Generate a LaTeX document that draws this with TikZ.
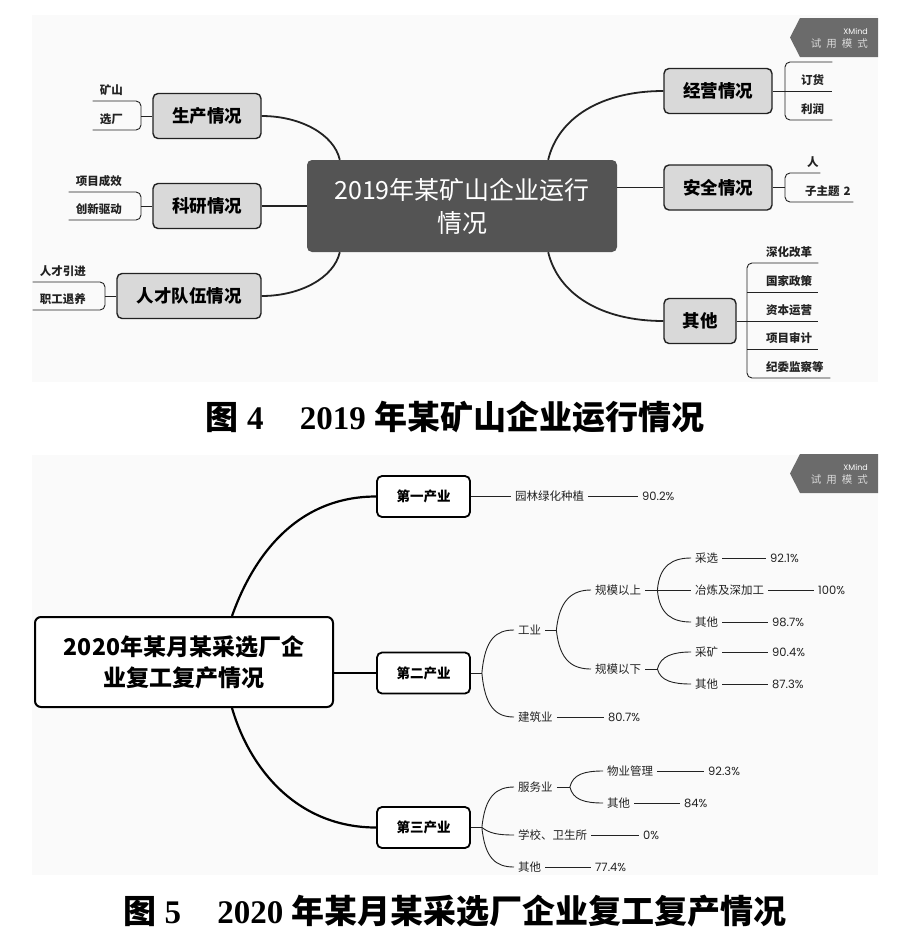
\documentclass[tikz,border=0pt]{standalone}
\usepackage{fontspec}
\setmainfont{Liberation Serif}
\newfontfamily\cjk{Noto Sans CJK SC}
\newfontfamily\pop{Poppins}
\usetikzlibrary{positioning}
\definecolor{panelbg}{HTML}{FAFAFA}
\definecolor{rootgray}{HTML}{545454}
\definecolor{topicgray}{HTML}{D9D9D9}
\definecolor{markgray}{HTML}{6B6B6B}
\definecolor{inkgray}{HTML}{222222}

\begin{document}
\begin{tikzpicture}[x=1pt,y=-1pt,
  rootdark/.style={fill=rootgray,text=white,rounded corners=5pt,minimum width=310pt,minimum height=92pt,align=center,inner sep=0pt,font=\cjk\fontsize{25}{33}\selectfont},
  topic/.style={draw=inkgray,line width=1.4pt,rounded corners=5pt,fill=topicgray,minimum height=45pt,inner sep=0pt,font=\cjk\bfseries\fontsize{17.5}{20}\selectfont},
  leafL/.style={font=\cjk\bfseries\fontsize{11.5}{14}\selectfont,text=inkgray,inner xsep=7pt,inner ysep=0pt,minimum height=22pt,align=left,text width=#1,anchor=south east},
  leafR/.style={font=\cjk\bfseries\fontsize{11.5}{14}\selectfont,text=inkgray,inner xsep=0pt,inner ysep=0pt,minimum height=22pt,align=left,text width=#1,anchor=south west},
  rootwhite/.style={draw=black,line width=2pt,rounded corners=6pt,fill=white,minimum width=298pt,minimum height=90pt,align=center,inner sep=0pt,font=\cjk\bfseries\fontsize{23}{31}\selectfont},
  branch/.style={draw=black,line width=1.8pt,rounded corners=5pt,fill=white,minimum width=93pt,minimum height=41pt,inner sep=0pt,font=\cjk\bfseries\fontsize{13.5}{16}\selectfont},
  item/.style={font=\cjk\fontsize{11.5}{14}\selectfont,text=inkgray,inner xsep=4pt,inner ysep=2pt,anchor=west},
  val/.style={font=\pop\fontsize{11.5}{14}\selectfont,text=inkgray,inner xsep=4pt,inner ysep=2pt,anchor=west},
  limb/.style={draw=inkgray,line width=1.8pt},
  bough/.style={draw=black,line width=2.2pt},
  twig/.style={draw=inkgray,line width=0.9pt},
  caption/.style={font=\bfseries\fontsize{33}{36}\selectfont,inner sep=0pt}
]
\fill[white] (0,0) rectangle (918,943);
\useasboundingbox (0,0) rectangle (918,943);
\fill[panelbg] (32,15) rectangle (878,382);
\fill[panelbg] (32,455) rectangle (878,875);

% trial-mode badges
\fill[markgray] (878,18) -- (800,18) -- (790,37.5) -- (800,57) -- (878,57) -- cycle;
\node[font=\pop\fontsize{8}{9}\selectfont,text=white,anchor=east,inner sep=0pt] (xm1) at (868,31) {XMind};
\node[font=\cjk\fontsize{10.5}{12}\selectfont,text=white!85!black,anchor=east,inner sep=0pt] (ty1) at (868,44) {试\hspace{5pt}用\hspace{5pt}模\hspace{5pt}式};
\fill[markgray] (878,454) -- (800,454) -- (790,473.5) -- (800,493) -- (878,493) -- cycle;
\node[font=\pop\fontsize{8}{9}\selectfont,text=white,anchor=east,inner sep=0pt] (xm2) at (868,467) {XMind};
\node[font=\cjk\fontsize{10.5}{12}\selectfont,text=white!85!black,anchor=east,inner sep=0pt] (ty2) at (868,480) {试\hspace{5pt}用\hspace{5pt}模\hspace{5pt}式};

% figure 4
\node[rootdark] (r1) at (462,206) {2019年某矿山企业运行\\情况};
\node[topic,minimum width=108pt] (p1) at (207,116) {生产情况};
\node[topic,minimum width=108pt] (p2) at (207,206) {科研情况};
\node[topic,minimum width=144pt] (p3) at (189,296) {人才队伍情况};
\node[topic,minimum width=108pt] (p4) at (718,91) {经营情况};
\node[topic,minimum width=108pt] (p5) at (718,187.5) {安全情况};
\node[topic,minimum width=72pt] (p6) at (700,321) {其他};
\draw[limb] ([xshift=33pt]r1.north west) .. controls +(-6,-26) and +(38,0) .. (p1.east);
\draw[limb] (r1.west) -- (p2.east);
\draw[limb] ([xshift=33pt]r1.south west) .. controls +(-6,26) and +(38,0) .. (p3.east);
\draw[limb] ([xshift=-69pt]r1.north east) .. controls +(10,-42) and +(-62,0) .. (p4.west);
\draw[limb] (r1.east |- p5.west) -- (p5.west);
\draw[limb] ([xshift=-69pt]r1.south east) .. controls +(10,42) and +(-62,0) .. (p6.west);

\node[leafL=34pt] (a1) at (141,101) {矿山};
\node[leafL=34pt] (a2) at (141,130) {选厂};
\draw[twig,rounded corners=5pt] (a1.south west) -- (a1.south east) -- (a2.south east) -- (a2.south west);
\draw[twig] (p1.west) -- (p1.west -| a1.south east);
\node[leafL=58pt] (e1) at (141,192) {项目成效};
\node[leafL=58pt] (e2) at (141,220) {创新驱动};
\draw[twig,rounded corners=5pt] (e1.south west) -- (e1.south east) -- (e2.south east) -- (e2.south west);
\draw[twig] (p2.west) -- (p2.west -| e1.south east);
\node[leafL=58pt] (f1) at (105,282) {人才引进};
\node[leafL=58pt] (f2) at (105,310) {职工退养};
\draw[twig,rounded corners=5pt] (f1.south west) -- (f1.south east) -- (f2.south east) -- (f2.south west);
\draw[twig] (p3.west) -- (p3.west -| f1.south east);

\coordinate (k4t) at (785,62);
\coordinate (k4b) at (785,120);
\node[leafR=31pt] (b1) at (801,91) {订货};
\node[leafR=31pt] (b2) at (801,120) {利润};
\draw[twig,rounded corners=5pt] (b1.south east |- k4t) -- (k4t) -- (k4b) -- (b2.south east);
\draw[twig] (p4.east) -- (b1.south east);
\coordinate (k5t) at (785,173);
\coordinate (k5b) at (785,202);
\node[leafR=13pt] (c1) at (807,173) {人};
\node[leafR=48pt] (c2) at (805,202) {子主题 2};
\draw[twig,rounded corners=5pt] (c1.south east) -- (k5t) -- (k5b) -- (c2.south east);
\draw[twig] (p5.east) -- (p5.east -| k5t);
\coordinate (k6t) at (747,263);
\coordinate (k6b) at (747,378);
\node[leafR=52pt] (d1) at (766,263) {深化改革};
\node[leafR=52pt] (d2) at (766,292) {国家政策};
\node[leafR=52pt] (d3) at (766,321) {资本运营};
\node[leafR=52pt] (d4) at (766,349) {项目审计};
\node[leafR=64pt] (d5) at (766,378) {纪委监察等};
\draw[twig,rounded corners=5pt] (d1.south east) -- (k6t) -- (k6b) -- (d5.south east);
\draw[twig] (k6t |- d2.south) -- (d2.south east);
\draw[twig] (k6t |- d3.south) -- (d3.south east);
\draw[twig] (k6t |- d4.south) -- (d4.south east);
\draw[twig] (p6.east) -- (p6.east -| k6t);

\node[caption] (cap4) at (455,417) {{\cjk 图} 4\hspace{1.1em}2019 {\cjk 年某矿山企业运行情况}};

% figure 5
\node[rootwhite] (r2) at (184,662) {2020年某月某采选厂企\\业复工复产情况};
\node[branch] (g1) at (423.5,496.5) {第一产业};
\node[branch] (g2) at (423.5,673) {第二产业};
\node[branch] (g3) at (423.5,827.5) {第三产业};
\draw[bough] ([xshift=48pt]r2.north) .. controls +(22,-62) and +(-78,0) .. (g1.west);
\draw[bough] (r2.east |- g2.west) -- (g2.west);
\draw[bough] ([xshift=48pt]r2.south) .. controls +(18,62) and +(-78,0) .. (g3.west);

\node[item] (h1) at (511,496.5) {园林绿化种植};
\node[val] (h1v) at (638,496.5) {90.2\%};
\draw[twig] (g1.east) -- (h1.west);
\draw[twig] (h1.east) -- (h1v.west);

\node[item] (i1) at (514,630) {工业};
\node[item] (i2) at (514,717) {建筑业};
\node[val] (i2v) at (604,717) {80.7\%};
\coordinate (fk2) at ([xshift=11pt]g2.east);
\draw[twig] (g2.east) -- (fk2);
\draw[twig] (fk2) .. controls +(3,-34) and +(-18,0) .. (i1.west);
\draw[twig] (fk2) .. controls +(3,34) and +(-18,0) .. (i2.west);
\draw[twig] (i2.east) -- (i2v.west);

\node[item] (j1) at (591,590) {规模以上};
\node[item] (j2) at (591,669) {规模以下};
\coordinate (fk3) at ([xshift=11pt]i1.east);
\draw[twig] (i1.east) -- (fk3);
\draw[twig] (fk3) .. controls +(3,-31) and +(-18,0) .. (j1.west);
\draw[twig] (fk3) .. controls +(3,31) and +(-18,0) .. (j2.west);

\node[item] (k1) at (691,558) {采选};
\node[item] (k2) at (691,590) {冶炼及深加工};
\node[item] (k3) at (691,622) {其他};
\node[val] (k1v) at (766,558) {92.1\%};
\node[val] (k2v) at (814,590) {100\%};
\node[val] (k3v) at (768,622) {98.7\%};
\coordinate (fk4) at ([xshift=12pt]j1.east);
\draw[twig] (j1.east) -- (fk4);
\draw[twig] (fk4) .. controls +(2,-25) and +(-18,0) .. (k1.west);
\draw[twig] (fk4) -- (k2.west);
\draw[twig] (fk4) .. controls +(2,25) and +(-18,0) .. (k3.west);
\draw[twig] (k1.east) -- (k1v.west);
\draw[twig] (k2.east) -- (k2v.west);
\draw[twig] (k3.east) -- (k3v.west);

\node[item] (k4) at (691,652) {采矿};
\node[item] (k5) at (691,684) {其他};
\node[val] (k4v) at (768,652) {90.4\%};
\node[val] (k5v) at (768,684) {87.3\%};
\coordinate (fk5) at ([xshift=12pt]j2.east);
\draw[twig] (j2.east) -- (fk5);
\draw[twig] (fk5) .. controls +(3,-13) and +(-18,0) .. (k4.west);
\draw[twig] (fk5) .. controls +(3,12) and +(-18,0) .. (k5.west);
\draw[twig] (k4.east) -- (k4v.west);
\draw[twig] (k5.east) -- (k5v.west);

\node[item] (m1) at (514,787) {服务业};
\node[item] (m2) at (514,835) {学校、卫生所};
\node[item] (m3) at (514,867) {其他};
\node[val] (m2v) at (639,835) {0\%};
\node[val] (m3v) at (591,867) {77.4\%};
\coordinate (fk6) at ([xshift=11pt]g3.east);
\draw[twig] (g3.east) -- (fk6);
\draw[twig] (fk6) .. controls +(3,-31) and +(-18,0) .. (m1.west);
\draw[twig] (fk6) .. controls +(8,6) and +(-16,0) .. (m2.west);
\draw[twig] (fk6) .. controls +(3,31) and +(-18,0) .. (m3.west);
\draw[twig] (m2.east) -- (m2v.west);
\draw[twig] (m3.east) -- (m3v.west);

\node[item] (n1) at (603,771) {物业管理};
\node[item] (n2) at (603,803) {其他};
\node[val] (n1v) at (704,771) {92.3\%};
\node[val] (n2v) at (680,803) {84\%};
\coordinate (fk7) at ([xshift=13pt]m1.east);
\draw[twig] (m1.east) -- (fk7);
\draw[twig] (fk7) .. controls +(3,-13) and +(-18,0) .. (n1.west);
\draw[twig] (fk7) .. controls +(3,13) and +(-18,0) .. (n2.west);
\draw[twig] (n1.east) -- (n1v.west);
\draw[twig] (n2.east) -- (n2v.west);

\node[caption] (cap5) at (455,911) {{\cjk 图} 5\hspace{1.1em}2020 {\cjk 年某月某采选厂企业复工复产情况}};
\end{tikzpicture}
\end{document}
